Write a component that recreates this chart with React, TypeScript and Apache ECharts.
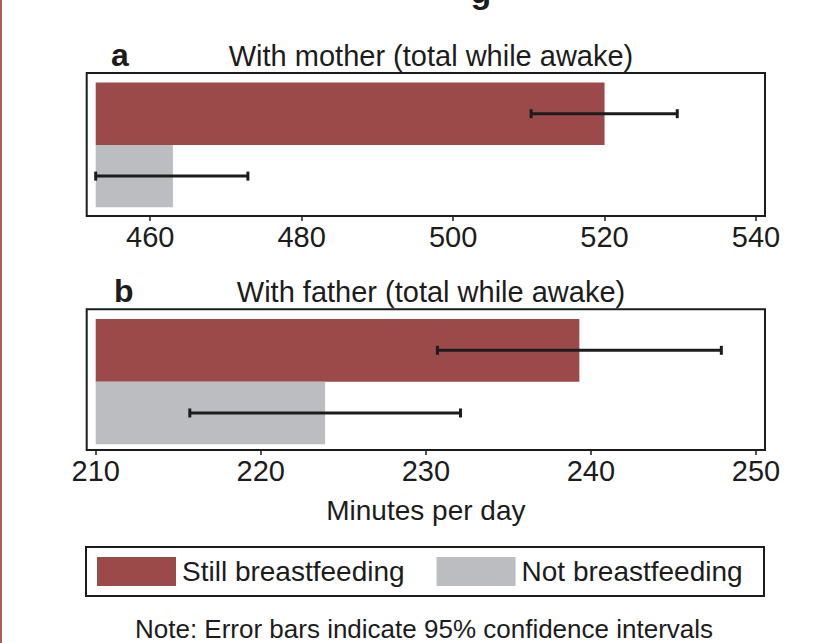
import React, { useEffect, useRef } from "react";
import * as echarts from "echarts";

// ---- data ----
const groups = ["Still breastfeeding", "Not breastfeeding"];
const motherMeans = [520.0, 463.0];
const motherCILow = [510.3, 452.8];
const motherCIHigh = [529.6, 472.9];
const fatherMeans = [239.3, 223.9];
const fatherCILow = [230.7, 215.7];
const fatherCIHigh = [247.9, 232.1];
const motherTicks = [460, 480, 500, 520, 540];
const fatherTicks = [210, 220, 230, 240, 250];
const panelTitles = ["With mother (total while awake)", "With father (total while awake)"];
const panelLetters = ["a", "b"];
const axisTitle = "Minutes per day";
const noteText = "Note: Error bars indicate 95% confidence intervals";

const RED = "#9c4a49";
const GRAY = "#bcbdc1";
const INK = "#1c1c1c";
const FONT = "'Liberation Sans', Arial, sans-serif";

export default function App() {
  const ref = useRef<HTMLDivElement>(null);
  useEffect(() => {
    if (!ref.current) return;
    const chart = echarts.init(ref.current, undefined, { renderer: "svg" });

    const errRender = (params: any, api: any) => {
      const lo = api.coord([api.value(0), api.value(2)]);
      const hi = api.coord([api.value(1), api.value(2)]);
      const y = lo[1];
      const st = { stroke: INK, lineWidth: 3 };
      return {
        type: "group",
        children: [
          { type: "line", shape: { x1: lo[0], y1: y, x2: hi[0], y2: y }, style: st },
          { type: "line", shape: { x1: lo[0], y1: y - 4.5, x2: lo[0], y2: y + 4.5 }, style: st },
          { type: "line", shape: { x1: hi[0], y1: y - 4.5, x2: hi[0], y2: y + 4.5 }, style: st },
        ],
      };
    };

    const xAxisCommon = {
      type: "value",
      axisLine: { show: false },
      splitLine: { show: false },
      axisTick: { show: true, length: 5, lineStyle: { color: INK, width: 1.5 } },
      axisLabel: { fontSize: 29, color: INK, fontFamily: FONT, margin: 6 },
    };

    const barSeries = (name: string, color: string, vals: (number | string)[], idx: number) => ({
      type: "bar",
      name,
      xAxisIndex: idx,
      yAxisIndex: idx,
      data: vals,
      barGap: "-100%",
      barCategoryGap: 0,
      itemStyle: { color },
    });

    const option: any = {
      animation: false,
      backgroundColor: "#ffffff",
      textStyle: { fontFamily: FONT, color: INK },
      title: [
        { text: panelLetters[0], left: 106, top: 34, textStyle: { fontSize: 32, fontWeight: "bold", color: INK, fontFamily: FONT } },
        { text: panelTitles[0], left: 426, textAlign: "center", top: 36, textStyle: { fontSize: 29, fontWeight: "normal", color: INK, fontFamily: FONT } },
        { text: panelLetters[1], left: 109, top: 270, textStyle: { fontSize: 32, fontWeight: "bold", color: INK, fontFamily: FONT } },
        { text: panelTitles[1], left: 426, textAlign: "center", top: 272.5, textStyle: { fontSize: 29, fontWeight: "normal", color: INK, fontFamily: FONT } },
      ],
      legend: {
        data: groups,
        left: 97,
        top: 557,
        width: 700,
        itemWidth: 79,
        itemHeight: 29,
        itemGap: 32,
        icon: "rect",
        padding: 0,
        textStyle: { fontSize: 28, color: INK, fontFamily: FONT, padding: [0, 0, 0, 1] },
      },
      grid: [
        { left: 95.7, right: 60, top: 82.5, height: 124.8 },
        { left: 95.7, right: 60, top: 319, height: 125.3 },
      ],
      xAxis: [
        {
          ...xAxisCommon,
          gridIndex: 0,
          min: 452.8,
          max: 540,
          offset: 8.7,
          axisTick: { ...xAxisCommon.axisTick, customValues: motherTicks },
          axisLabel: { ...xAxisCommon.axisLabel, customValues: motherTicks },
        },
        {
          ...xAxisCommon,
          gridIndex: 1,
          min: 210,
          max: 250,
          offset: 5.7,
          axisTick: { ...xAxisCommon.axisTick, customValues: fatherTicks },
          axisLabel: { ...xAxisCommon.axisLabel, customValues: fatherTicks },
          name: axisTitle,
          nameLocation: "middle",
          nameGap: 46,
          nameTextStyle: { fontSize: 28, color: INK, fontFamily: FONT },
        },
      ],
      yAxis: [0, 1].map((i) => ({
        type: "category",
        gridIndex: i,
        data: groups,
        inverse: true,
        axisLine: { show: false },
        axisTick: { show: false },
        axisLabel: { show: false },
      })),
      series: [
        barSeries(groups[0], RED, [motherMeans[0], "-"], 0),
        barSeries(groups[1], GRAY, ["-", motherMeans[1]], 0),
        barSeries(groups[0], RED, [fatherMeans[0], "-"], 1),
        barSeries(groups[1], GRAY, ["-", fatherMeans[1]], 1),
        {
          type: "custom",
          xAxisIndex: 0,
          yAxisIndex: 0,
          clip: false,
          encode: { x: [0, 1], y: 2 },
          data: groups.map((_, i) => [motherCILow[i], motherCIHigh[i], i]),
          renderItem: errRender,
          z: 5,
        },
        {
          type: "custom",
          xAxisIndex: 1,
          yAxisIndex: 1,
          clip: false,
          encode: { x: [0, 1], y: 2 },
          data: groups.map((_, i) => [fatherCILow[i], fatherCIHigh[i], i]),
          renderItem: errRender,
          z: 5,
        },
      ],
      graphic: [
        { type: "rect", shape: { x: 0, y: 0, width: 2, height: 643 }, style: { fill: "#b35c5d" }, silent: true },
        { type: "text", x: 481, y: 8, style: { text: "g", fontSize: 34, fontWeight: "bold", fontFamily: FONT, fill: INK, align: "center", verticalAlign: "bottom" }, silent: true },
        { type: "rect", shape: { x: 86.7, y: 73, width: 678.3, height: 143 }, style: { fill: "none", stroke: INK, lineWidth: 2 }, silent: true, z: 10 },
        { type: "rect", shape: { x: 86.7, y: 309.3, width: 678.3, height: 140.7 }, style: { fill: "none", stroke: INK, lineWidth: 2 }, silent: true, z: 10 },
        { type: "rect", shape: { x: 86, y: 547, width: 678, height: 49 }, style: { fill: "none", stroke: INK, lineWidth: 2 }, silent: true, z: 10 },
        { type: "text", x: 424, y: 629, style: { text: noteText, fontSize: 26, fontFamily: FONT, fill: INK, align: "center", verticalAlign: "middle" }, silent: true },
      ],
    };
    chart.setOption(option);
    return () => chart.dispose();
  }, []);
  return <div ref={ref} style={{ position: "fixed", left: 0, top: 0, width: 816, height: 643 }} />;
}
